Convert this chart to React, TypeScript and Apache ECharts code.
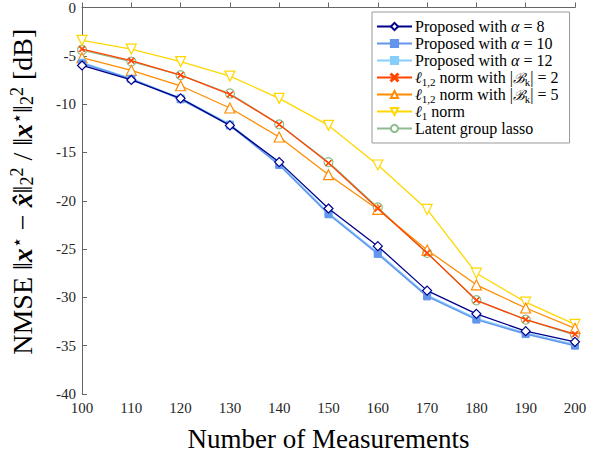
import React, { useEffect, useRef } from "react";
import * as echarts from "echarts";

const measurements = [100, 110, 120, 130, 140, 150, 160, 170, 180, 190, 200];
const alpha8 = [-6.0, -7.5, -9.4, -12.2, -16.0, -20.8, -24.7, -29.3, -31.7, -33.5, -34.6];
const alpha10 = [-5.8, -7.4, -9.5, -12.2, -16.3, -21.4, -25.5, -29.9, -32.3, -33.8, -35.0];
const alpha12 = [-5.7, -7.4, -9.4, -12.1, -16.2, -21.3, -25.4, -29.8, -32.2, -33.7, -34.9];
const l12b2 = [-4.3, -5.5, -7.0, -9.0, -12.1, -16.1, -20.8, -25.4, -30.3, -32.3, -33.8];
const l12b5 = [-5.2, -6.5, -8.1, -10.4, -13.4, -17.3, -20.9, -25.1, -28.7, -31.1, -33.2];
const l1 = [-3.4, -4.3, -5.6, -7.1, -9.4, -12.2, -16.3, -20.9, -27.5, -30.5, -32.8];
const latent = [-4.4, -5.6, -7.0, -8.9, -12.1, -16.0, -20.7, -25.4, -30.3, -32.3, -33.9];

const names = [
  "Proposed with α = 8",
  "Proposed with α = 10",
  "Proposed with α = 12",
  "ℓ1,2 norm with |Bk| = 2",
  "ℓ1,2 norm with |Bk| = 5",
  "ℓ1 norm",
  "Latent group lasso",
];

const richNames: Record<string, string> = {
  [names[0]]: "Proposed with {i|α} = 8",
  [names[1]]: "Proposed with {i|α} = 10",
  [names[2]]: "Proposed with {i|α} = 12",
  [names[3]]: "{i|ℓ}{s|1,2} norm with |{c|ℬ}{s|k}| = 2",
  [names[4]]: "{i|ℓ}{s|1,2} norm with |{c|ℬ}{s|k}| = 5",
  [names[5]]: "{i|ℓ}{s|1} norm",
  [names[6]]: "Latent group lasso",
};

const FONT = "'Liberation Serif', 'Times New Roman', serif";
const XSYM = "path://M0,1L1,0L5,4L9,0L10,1L6,5L10,9L9,10L5,6L1,10L0,9L4,5Z";
const DTRI = "path://M0,0L10,0L5,9Z";

function mk(name: string, data: number[], color: string, symbol: string, size: number, width: number, hollow: boolean, z: number) {
  return {
    name,
    type: "line",
    data: measurements.map((m, i) => [m, data[i]]),
    symbol,
    symbolSize: size,
    showAllSymbol: true,
    z,
    lineStyle: { color, width },
    itemStyle: hollow
      ? { color: "#ffffff", borderColor: color, borderWidth: 1.2 }
      : { color, borderColor: color, borderWidth: 1 },
    emphasis: { disabled: true },
  };
}

export default function App() {
  const ref = useRef<HTMLDivElement>(null);
  useEffect(() => {
    if (!ref.current) return;
    const chart = echarts.init(ref.current, null, { renderer: "svg" });
    chart.setOption({
      animation: false,
      backgroundColor: "#ffffff",
      textStyle: { fontFamily: FONT },
      grid: { left: 79, right: 26, top: 4, bottom: 67, containLabel: false },
      legend: {
        orient: "vertical",
        left: 372,
        top: 12,
        padding: [5, 11, 5, 4],
        itemGap: -2,
        itemWidth: 35,
        itemHeight: 9,
        borderColor: "#999999",
        borderWidth: 1,
        backgroundColor: "#ffffff",
        data: names,
        formatter: (n: string) => richNames[n] || n,
        textStyle: {
          fontFamily: FONT,
          fontSize: 16,
          lineHeight: 19,
          color: "#000000",
          padding: [0, 0, 0, -2],
          rich: {
            i: { fontFamily: FONT, fontStyle: "italic", fontSize: 16, lineHeight: 19 },
            s: { fontFamily: FONT, fontSize: 11, lineHeight: 19, verticalAlign: "bottom" },
            c: { fontFamily: "'DejaVu Serif', serif", fontStyle: "italic", fontSize: 14, lineHeight: 19 },
          },
        },
      },
      xAxis: {
        type: "value",
        min: 100,
        max: 200,
        interval: 10,
        name: "Number of Measurements",
        nameLocation: "middle",
        nameGap: 31,
        nameTextStyle: { fontFamily: FONT, fontSize: 27, color: "#000000" },
        axisLine: { lineStyle: { color: "#666666", width: 1 } },
        axisTick: { inside: true, length: 5, lineStyle: { color: "#666666" } },
        axisLabel: { fontFamily: FONT, fontSize: 15, color: "#262626", margin: 6 },
        splitLine: { show: false },
      },
      yAxis: {
        type: "value",
        min: -40,
        max: 0,
        interval: 5,
        name: "NMSE ‖{b|x}{p|⋆} − {b|x̂}‖{s|2}{p|2} / ‖{b|x}{p|⋆}‖{s|2}{p|2} [dB]",
        nameLocation: "middle",
        nameGap: 46,
        nameRotate: 90,
        nameTextStyle: {
          fontFamily: FONT,
          fontSize: 28,
          color: "#000000",
          padding: [0, 0, 0, 18],
          rich: {
            b: { fontFamily: FONT, fontSize: 28, fontStyle: "italic", fontWeight: "bold" },
            s: { fontFamily: FONT, fontSize: 18, verticalAlign: "bottom" },
            p: { fontFamily: FONT, fontSize: 18, verticalAlign: "top" },
          },
        },
        axisLine: { show: true, lineStyle: { color: "#666666", width: 1 } },
        axisTick: { show: true, inside: true, length: 5, lineStyle: { color: "#666666" } },
        axisLabel: { fontFamily: FONT, fontSize: 15, color: "#262626", margin: 6 },
        splitLine: { show: false },
      },
      series: [
        mk(names[6], latent, "#8fbc8f", "circle", 9, 1.3, true, 3),
        mk(names[5], l1, "#ffd700", DTRI, 10, 1.3, true, 3),
        mk(names[4], l12b5, "#ff8c00", "triangle", 10, 1.3, true, 3),
        mk(names[3], l12b2, "#ff4500", XSYM, 6, 1.3, false, 4),
        mk(names[2], alpha12, "#87cefa", "rect", 7, 2, false, 4),
        mk(names[1], alpha10, "#6495ed", "rect", 7, 1.5, false, 4),
        mk(names[0], alpha8, "#00008b", "diamond", 9, 1.3, true, 5),
      ],
    });
    return () => chart.dispose();
  }, []);
  return (
    <div
      ref={ref}
      style={{ position: "absolute", left: 0, top: 0, width: 601, height: 461 }}
    />
  );
}
